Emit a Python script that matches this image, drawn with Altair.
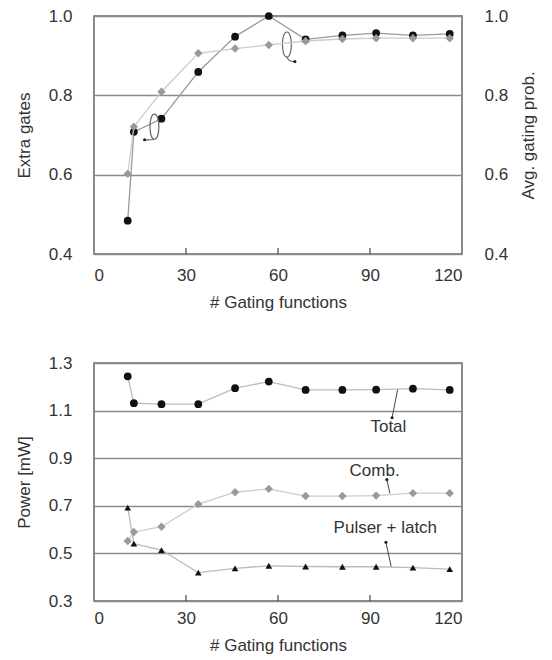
import altair as alt
import pandas as pd

# ---------------- data ----------------
x_vals = [11, 13, 22, 34, 46, 57, 69, 81, 92, 104, 116]
extra_gates = [0.484, 0.708, 0.741, 0.859, 0.948, 1.0, 0.941, 0.951, 0.957, 0.951, 0.955]
avg_prob = [0.602, 0.721, 0.809, 0.906, 0.918, 0.927, 0.937, 0.942, 0.944, 0.944, 0.944]
total = [1.244, 1.131, 1.127, 1.127, 1.194, 1.222, 1.187, 1.187, 1.188, 1.192, 1.187]
comb = [0.552, 0.590, 0.612, 0.707, 0.757, 0.771, 0.741, 0.741, 0.743, 0.753, 0.753]
pulser = [0.692, 0.541, 0.514, 0.419, 0.437, 0.448, 0.445, 0.444, 0.444, 0.440, 0.434]

x_ticks = [0, 30, 60, 90, 120]
inner_ticks = [30, 60, 90]
top_y_ticks = [0.4, 0.6, 0.8, 1.0]
bot_y_ticks = [0.3, 0.5, 0.7, 0.9, 1.1, 1.3]

# annotations (data coordinates)
labels_txt = ["Total", "Comb.", "Pulser + latch"]
labels_x = [96, 91.5, 95]
labels_y = [1.029, 0.845, 0.605]
arrow_x = [99, 95.5, 95.2]
arrow_y = [1.188, 0.81, 0.547]
arrow_x2 = [97.2, 96.5, 96.9]
arrow_y2 = [1.07, 0.752, 0.444]
head_x = [97.2, 95.5, 95.2]
head_y = [1.07, 0.81, 0.547]

loop_left_xy = (19.7, 0.721)
loop_right_xy = (62.9, 0.928)
loop_heads_x = [16.5, 65.5]
loop_heads_y = [0.688, 0.885]

FONT = "Liberation Sans"
W, H = 368, 238

df_top = pd.DataFrame({"x": x_vals, "eg": extra_gates, "ap": avg_prob})
df_bot = pd.DataFrame({"x": x_vals, "total": total, "comb": comb, "pulser": pulser})
df_ticks = pd.DataFrame({"x": inner_ticks})
df_lab = pd.DataFrame({"t": labels_txt, "x": labels_x, "y": labels_y})
df_arr = pd.DataFrame({"x": arrow_x, "y": arrow_y, "x2": arrow_x2, "y2": arrow_y2})
df_head = pd.DataFrame({"x": head_x, "y": head_y})
df_loopL = pd.DataFrame({"x": [loop_left_xy[0]], "y": [loop_left_xy[1]]})
df_loopR = pd.DataFrame({"x": [loop_right_xy[0]], "y": [loop_right_xy[1]]})
df_loopH = pd.DataFrame({"x": loop_heads_x, "y": loop_heads_y})

xs = alt.Scale(domain=[0, 120], nice=False, zero=False)
ys_top = alt.Scale(domain=[0.4, 1.0], nice=False, zero=False)
ys_bot = alt.Scale(domain=[0.3, 1.3], nice=False, zero=False)


def x_axis(lp, tp):
    return alt.Axis(values=x_ticks, ticks=False, tickSize=0, domain=False, grid=False,
                    labelPadding=lp, title="# Gating functions", titlePadding=tp)


AX_top = x_axis(13, 11)
AX_bot = x_axis(9, 11)
XT = lambda f="x": alt.X(f + ":Q", scale=xs, axis=AX_top)
XB = lambda f="x": alt.X(f + ":Q", scale=xs, axis=AX_bot)

left_axis_top = alt.Axis(values=top_y_ticks, format=".1f", ticks=False, tickSize=0, domain=False,
                         grid=True, labelPadding=22, title="Extra gates", titlePadding=15)
right_axis_top = alt.Axis(values=top_y_ticks, format=".1f", ticks=False, tickSize=0, domain=False,
                          grid=False, orient="right", labelPadding=22, title="Avg. gating prob.",
                          titlePadding=13, titleAngle=270, titleBaseline="top")
left_axis_bot = alt.Axis(values=bot_y_ticks, format=".1f", ticks=False, tickSize=0, domain=False,
                         grid=True, labelPadding=22, title="Power [mW]", titlePadding=15)

YL = lambda f: alt.Y(f + ":Q", scale=ys_top, axis=left_axis_top)
YR = lambda f: alt.Y(f + ":Q", scale=ys_top, axis=right_axis_top)
YB = lambda f: alt.Y(f + ":Q", scale=ys_bot, axis=left_axis_bot)

# ---------------- top chart ----------------
base_top = alt.Chart(df_top)
eg_line = base_top.mark_line(color="#9a9a9a", strokeWidth=1.3).encode(x=XT(), y=YL("eg"))
eg_pts = base_top.mark_point(shape="circle", filled=True, color="#111", size=60, opacity=1).encode(
    x=XT(), y=YL("eg"))

loop_L_path = ("M 0 -0.93 C 0.44 -0.93 0.44 0.93 0 0.93 C -0.44 0.93 -0.44 -0.93 0 -0.93 "
               "M 0 0.93 Q -0.35 1.02 -0.74 0.96")
loop_R_path = ("M 0 -0.93 C 0.44 -0.93 0.44 0.93 0 0.93 C -0.44 0.93 -0.44 -0.93 0 -0.93 "
               "M 0 0.93 Q 0.15 1.3 0.59 1.26")
loopL = alt.Chart(df_loopL).mark_point(shape=loop_L_path, size=729, filled=False, stroke="#666",
                                       strokeWidth=1.2, opacity=1).encode(x=XT(), y=YL("y"))
loopR = alt.Chart(df_loopR).mark_point(shape=loop_R_path, size=729, filled=False, stroke="#666",
                                       strokeWidth=1.2, opacity=1).encode(x=XT(), y=YL("y"))
loopH = alt.Chart(df_loopH).mark_point(shape="circle", filled=True, color="#222", size=10,
                                       opacity=1).encode(x=XT(), y=YL("y"))
ticks_top = alt.Chart(df_ticks).mark_rule(color="#444", strokeWidth=1.2).encode(
    x=XT(), y=alt.value(H), y2=alt.value(H - 6))

left_layer = alt.layer(eg_line, eg_pts, loopL, loopR, loopH, ticks_top)

ap_line = base_top.mark_line(color="#cccccc", strokeWidth=1.3).encode(x=XT(), y=YR("ap"))
ap_pts = base_top.mark_point(shape="diamond", filled=True, color="#999", size=70, opacity=1).encode(
    x=XT(), y=YR("ap"))
right_layer = alt.layer(ap_line, ap_pts)

top = alt.layer(left_layer, right_layer).resolve_scale(y="independent").properties(width=W, height=H)

# ---------------- bottom chart ----------------
base_bot = alt.Chart(df_bot)
tot_line = base_bot.mark_line(color="#bbbbbb", strokeWidth=1.3).encode(x=XB(), y=YB("total"))
tot_pts = base_bot.mark_point(shape="circle", filled=True, color="#111", size=60, opacity=1).encode(
    x=XB(), y=YB("total"))
comb_line = base_bot.mark_line(color="#cccccc", strokeWidth=1.3).encode(x=XB(), y=YB("comb"))
comb_pts = base_bot.mark_point(shape="diamond", filled=True, color="#999", size=70, opacity=1).encode(
    x=XB(), y=YB("comb"))
pul_line = base_bot.mark_line(color="#bbbbbb", strokeWidth=1.3).encode(x=XB(), y=YB("pulser"))
pul_pts = base_bot.mark_point(shape="triangle-up", filled=True, color="#111", size=45, opacity=1).encode(
    x=XB(), y=YB("pulser"))

arrows = alt.Chart(df_arr).mark_rule(color="#444", strokeWidth=1).encode(
    x=XB(), y=YB("y"), x2="x2:Q", y2="y2:Q")
heads = alt.Chart(df_head).mark_point(shape="circle", filled=True, color="#222", size=10,
                                      opacity=1).encode(x=XB(), y=YB("y"))
texts = alt.Chart(df_lab).mark_text(font=FONT, fontSize=17, color="#333", align="center",
                                    baseline="middle").encode(x=XB(), y=YB("y"), text="t:N")
ticks_bot = alt.Chart(df_ticks).mark_rule(color="#444", strokeWidth=1.2).encode(
    x=XB(), y=alt.value(H), y2=alt.value(H - 6))

bottom = alt.layer(tot_line, comb_line, pul_line, tot_pts, comb_pts, pul_pts,
                   arrows, heads, texts, ticks_bot).properties(width=W, height=H)

chart = alt.vconcat(top, bottom, spacing=42).properties(
    padding={"left": 6, "top": -2, "right": 0, "bottom": 0}
).configure(font=FONT).configure_view(
    stroke="#666", strokeWidth=1.5
).configure_axis(
    labelFont=FONT, titleFont=FONT, labelFontSize=17, titleFontSize=17,
    labelColor="#333", titleColor="#333", titleFontWeight="normal",
    gridColor="#8a8a8a", gridWidth=1.3
)

chart.save("out.html", embed_options={"renderer": "svg", "actions": False})
